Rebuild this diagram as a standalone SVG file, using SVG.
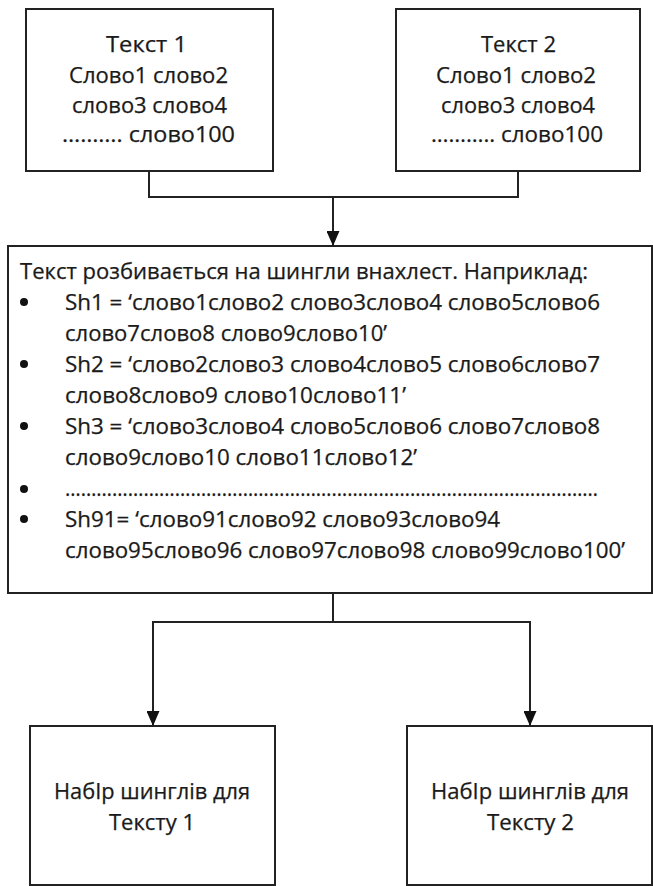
<svg xmlns="http://www.w3.org/2000/svg" width="653" height="886" viewBox="0 0 653 886">
<style>
.box{fill:#fff;stroke:#222;stroke-width:2}
.t{font-family:"Open Sans","Noto Sans","DejaVu Sans",sans-serif;font-size:21px;fill:#1a1a1a;stroke:#1a1a1a;stroke-width:0.25}
.c{stroke:#222;stroke-width:2;fill:none}
.b{fill:#111}
</style>
<defs>
<marker id="ah" markerWidth="15" markerHeight="13" refX="15" refY="6.5" orient="auto" markerUnits="userSpaceOnUse" viewBox="0 0 15 13">
<path d="M0,0 L15,6.5 L0,13 Z" fill="#111"/>
</marker>
</defs>
<rect width="653" height="886" fill="#fff"/>
<g id="connectors">
<path class="c" d="M149,171 V197 H518 V171"/>
<path class="c" d="M333,197 V246" marker-end="url(#ah)"/>
<path class="c" d="M333,593 V622 H153 V726" marker-end="url(#ah)"/>
<path class="c" d="M333,622 H530 V726" marker-end="url(#ah)"/>
</g>
<g id="text1">
<rect class="box" x="26" y="9" width="247" height="162"/>
<text class="t" x="106" y="52" textLength="81" lengthAdjust="spacingAndGlyphs">Текст 1</text>
<text class="t" x="69" y="83" textLength="159" lengthAdjust="spacingAndGlyphs">Слово1 слово2</text>
<text class="t" x="72" y="113" textLength="155" lengthAdjust="spacingAndGlyphs">слово3 слово4</text>
<text class="t" x="62" y="142" textLength="173" lengthAdjust="spacingAndGlyphs">………. слово100</text>
</g>
<g id="text2">
<rect class="box" x="396" y="9" width="244" height="162"/>
<text class="t" x="481" y="52" textLength="75" lengthAdjust="spacingAndGlyphs">Текст 2</text>
<text class="t" x="436" y="83" textLength="160" lengthAdjust="spacingAndGlyphs">Слово1 слово2</text>
<text class="t" x="441" y="113" textLength="154" lengthAdjust="spacingAndGlyphs">слово3 слово4</text>
<text class="t" x="431" y="142" textLength="172" lengthAdjust="spacingAndGlyphs">……….. слово100</text>
</g>
<g id="shingles">
<rect class="box" x="8" y="246" width="644" height="347"/>
<text class="t" x="20" y="279" textLength="568" lengthAdjust="spacingAndGlyphs">Текст розбивається на шингли внахлест. Наприклад:</text>
<circle class="b" cx="24" cy="302" r="4"/>
<text class="t" x="65" y="310" textLength="535" lengthAdjust="spacingAndGlyphs">Sh1 = ‘слово1слово2 слово3слово4 слово5слово6</text>
<text class="t" x="65" y="341" textLength="322" lengthAdjust="spacingAndGlyphs">слово7слово8 слово9слово10’</text>
<circle class="b" cx="24" cy="364" r="4"/>
<text class="t" x="65" y="372" textLength="535" lengthAdjust="spacingAndGlyphs">Sh2 = ‘слово2слово3 слово4слово5 слово6слово7</text>
<text class="t" x="65" y="403" textLength="341" lengthAdjust="spacingAndGlyphs">слово8слово9 слово10слово11’</text>
<circle class="b" cx="24" cy="426" r="4"/>
<text class="t" x="65" y="434" textLength="535" lengthAdjust="spacingAndGlyphs">Sh3 = ‘слово3слово4 слово5слово6 слово7слово8</text>
<text class="t" x="65" y="465" textLength="352" lengthAdjust="spacingAndGlyphs">слово9слово10 слово11слово12’</text>
<circle class="b" cx="24" cy="489" r="4"/>
<text class="t" x="65" y="496" textLength="533" lengthAdjust="spacingAndGlyphs">…………………………………………………………………………………………</text>
<circle class="b" cx="24" cy="519" r="4"/>
<text class="t" x="65" y="527" textLength="435" lengthAdjust="spacingAndGlyphs">Sh91= ‘слово91слово92 слово93слово94</text>
<text class="t" x="65" y="558" textLength="560" lengthAdjust="spacingAndGlyphs">слово95слово96 слово97слово98 слово99слово100’</text>
</g>
<g id="set1">
<rect class="box" x="30" y="726" width="245" height="159"/>
<text class="t" x="54" y="799" textLength="196" lengthAdjust="spacingAndGlyphs">НабІр шинглів для</text>
<text class="t" x="109" y="830" textLength="86" lengthAdjust="spacingAndGlyphs">Тексту 1</text>
</g>
<g id="set2">
<rect class="box" x="407" y="726" width="245" height="159"/>
<text class="t" x="431" y="799" textLength="198" lengthAdjust="spacingAndGlyphs">НабІр шинглів для</text>
<text class="t" x="487" y="830" textLength="87" lengthAdjust="spacingAndGlyphs">Тексту 2</text>
</g>
</svg>
